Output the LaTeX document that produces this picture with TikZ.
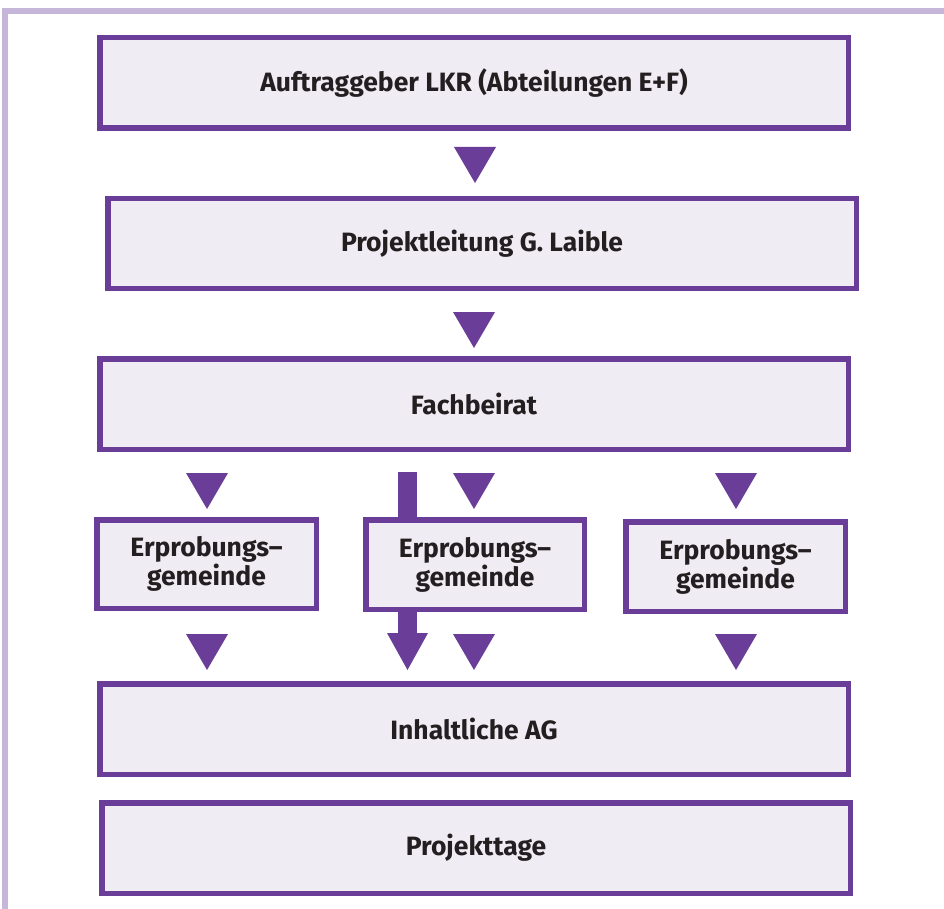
\documentclass[tikz,border=0pt]{standalone}
\usepackage{fontspec}
\setmainfont{Fira Sans}
\definecolor{pur}{HTML}{6A3E98}
\definecolor{boxfill}{HTML}{EFECF4}
\definecolor{framec}{HTML}{C5B6DA}
\definecolor{txt}{HTML}{231F20}
\begin{document}
\begin{tikzpicture}[x=1pt,y=-1pt,
  box/.style={draw=pur, fill=boxfill, line width=5.5pt, inner sep=0pt, text=txt,
    font=\fontsize{26.5}{29}\selectfont\bfseries, align=center},
  trimark/.style={fill=pur}]
\useasboundingbox (0,0) rectangle (944,909);
\fill[white] (0,0) rectangle (944,909);
% outer frame
\draw[framec, line width=5.5pt] (4.8,909) -- (4.8,11.2) -- (944,11.2);
% bar arrow behind middle box
\fill[pur] (398,472) rectangle (417,634);
\fill[pur] (387,633) -- (428,633) -- (407.5,670) -- cycle;
% boxes
\node[box, minimum width=748.5pt, minimum height=90.5pt] (b1) at (474,83) {Auftraggeber LKR (Abteilungen E+F)};
\node[box, minimum width=748.5pt, minimum height=89.5pt] (b2) at (482,243.5) {Projektleitung G. Laible};
\node[box, minimum width=748.5pt, minimum height=90.5pt] (b3) at (474,404) {Fachbeirat};
\node[box, minimum width=219.5pt, minimum height=88.5pt] (e1) at (206.5,564) {Erprobungs–\\gemeinde};
\node[box, minimum width=218.5pt, minimum height=89.5pt] (e2) at (475,564.5) {Erprobungs–\\gemeinde};
\node[box, minimum width=219.5pt, minimum height=89.5pt] (e3) at (735.5,566.5) {Erprobungs–\\gemeinde};
\node[box, minimum width=748.5pt, minimum height=90.5pt] (b4) at (474,729) {Inhaltliche AG};
\node[box, minimum width=748.5pt, minimum height=90.5pt] (b5) at (476,848) {Projekttage};
% triangle markers
\foreach \cx/\ty in {475/147, 474/312, 207/473, 474/473, 736/473, 207/634, 474/634, 736/634}{
  \fill[trimark] (\cx-21,\ty) -- (\cx+21,\ty) -- (\cx,\ty+36) -- cycle;
}
\end{tikzpicture}
\end{document}
